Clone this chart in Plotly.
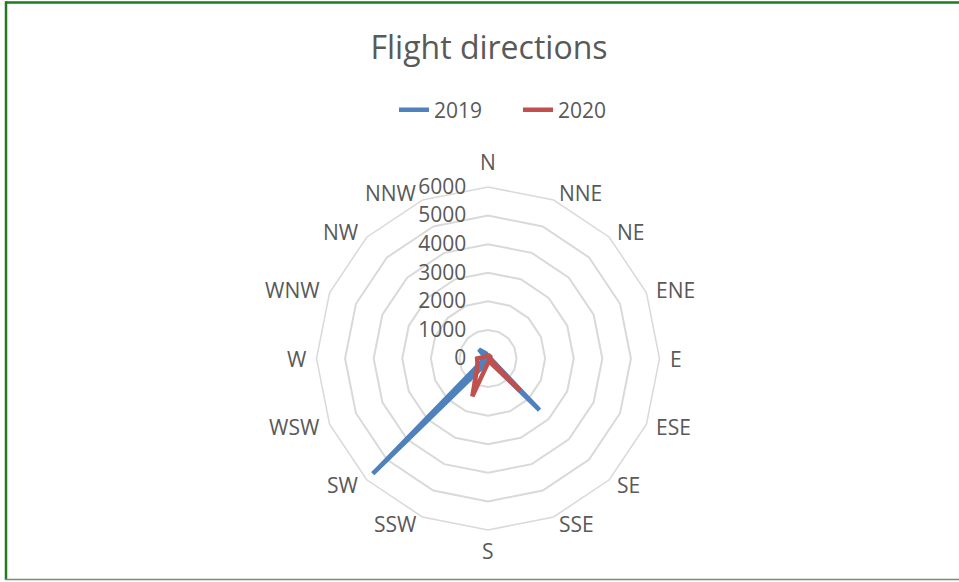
import math
import plotly.graph_objects as go

categories = ["N", "NNE", "NE", "ENE", "E", "ESE", "SE", "SSE",
              "S", "SSW", "SW", "WSW", "W", "WNW", "NW", "NNW"]
flights_2019 = [100, 50, 50, 50, 100, 150, 2550, 100, 100, 200, 5700, 200, 100, 100, 450, 200]
flights_2020 = [150, 100, 100, 50, 50, 100, 1600, 100, 150, 1430, 550, 400, 380, 150, 100, 100]
radial_ticks = [0, 1000, 2000, 3000, 4000, 5000, 6000]

W, H = 959, 582
cx, cy, R = 488, 358.5, 171.5

def closed(vals):
    return list(vals) + [vals[0]]

fig = go.Figure()
fig.add_trace(go.Scatterpolar(
    r=closed(flights_2019), theta=closed(categories), mode="lines", name="2019",
    line=dict(color="#4F81BD", width=4.5)))
fig.add_trace(go.Scatterpolar(
    r=closed(flights_2020), theta=closed(categories), mode="lines", name="2020",
    line=dict(color="#C0504D", width=4.5)))

grid = "#D9D9D9"
txt = "#595959"
font = "Open Sans"
fs = 21

# category labels placed around the polygon (Excel-like placement)
annotations = []
n = len(categories)
for i, cat in enumerate(categories):
    th = 2 * math.pi * i / n
    s, c = math.sin(th), math.cos(th)
    if abs(s) < 0.01:
        off = 25 if c > 0 else 21
        xa = "center"
    else:
        off = 8
        xa = "left" if s > 0 else "right"
    px = cx + (R + off) * s
    py = cy - (R + off) * c
    annotations.append(dict(text=cat, x=px / W, y=1 - py / H, xref="paper", yref="paper",
                            xanchor=xa, yanchor="middle", showarrow=False,
                            font=dict(size=fs, color=txt, family=font)))

fig.update_layout(
    width=W, height=H,
    margin=dict(l=0, r=0, t=0, b=0),
    paper_bgcolor="white",
    font=dict(family=font, color=txt, size=fs),
    title=dict(text="Flight directions", x=489 / W, y=1 - 48 / H,
               xanchor="center", yanchor="middle",
               font=dict(family=font, size=32, color=txt)),
    legend=dict(orientation="h", x=394 / W, y=1 - 110 / H,
                xanchor="left", yanchor="middle", entrywidth=79, entrywidthmode="pixels",
                font=dict(size=fs, color=txt), bgcolor="rgba(0,0,0,0)"),
    polar=dict(
        domain=dict(x=[(cx - R) / W, (cx + R) / W],
                    y=[1 - (cy + R) / H, 1 - (cy - R) / H]),
        bgcolor="white",
        gridshape="linear",
        radialaxis=dict(range=[0, 6000], tickvals=radial_ticks, angle=90,
                        tickangle=90, side="counterclockwise",
                        showline=False, ticks="outside", ticklen=14,
                        tickcolor="rgba(0,0,0,0)", gridcolor=grid, gridwidth=1.5,
                        tickfont=dict(size=fs, color=txt)),
        angularaxis=dict(direction="clockwise", rotation=90, showgrid=False,
                         showline=True, linecolor=grid, linewidth=1.5,
                         ticks="", showticklabels=False),
    ),
    annotations=annotations,
    shapes=[
        dict(type="line", xref="paper", yref="paper", x0=5 / W, x1=1.0,
             y0=1 - 2.5 / H, y1=1 - 2.5 / H, line=dict(color="#1E7B1E", width=2.5)),
        dict(type="line", xref="paper", yref="paper", x0=6 / W, x1=6 / W,
             y0=1 - 580 / H, y1=1 - 1.5 / H, line=dict(color="#1E7B1E", width=2.5)),
        dict(type="line", xref="paper", yref="paper", x0=5 / W, x1=1.0,
             y0=1 - 579.5 / H, y1=1 - 579.5 / H, line=dict(color="#7A8A7A", width=1.5)),
    ],
)

fig.write_html("out.html", config={"displayModeBar": False},
               post_script="document.body.style.margin='0';")
